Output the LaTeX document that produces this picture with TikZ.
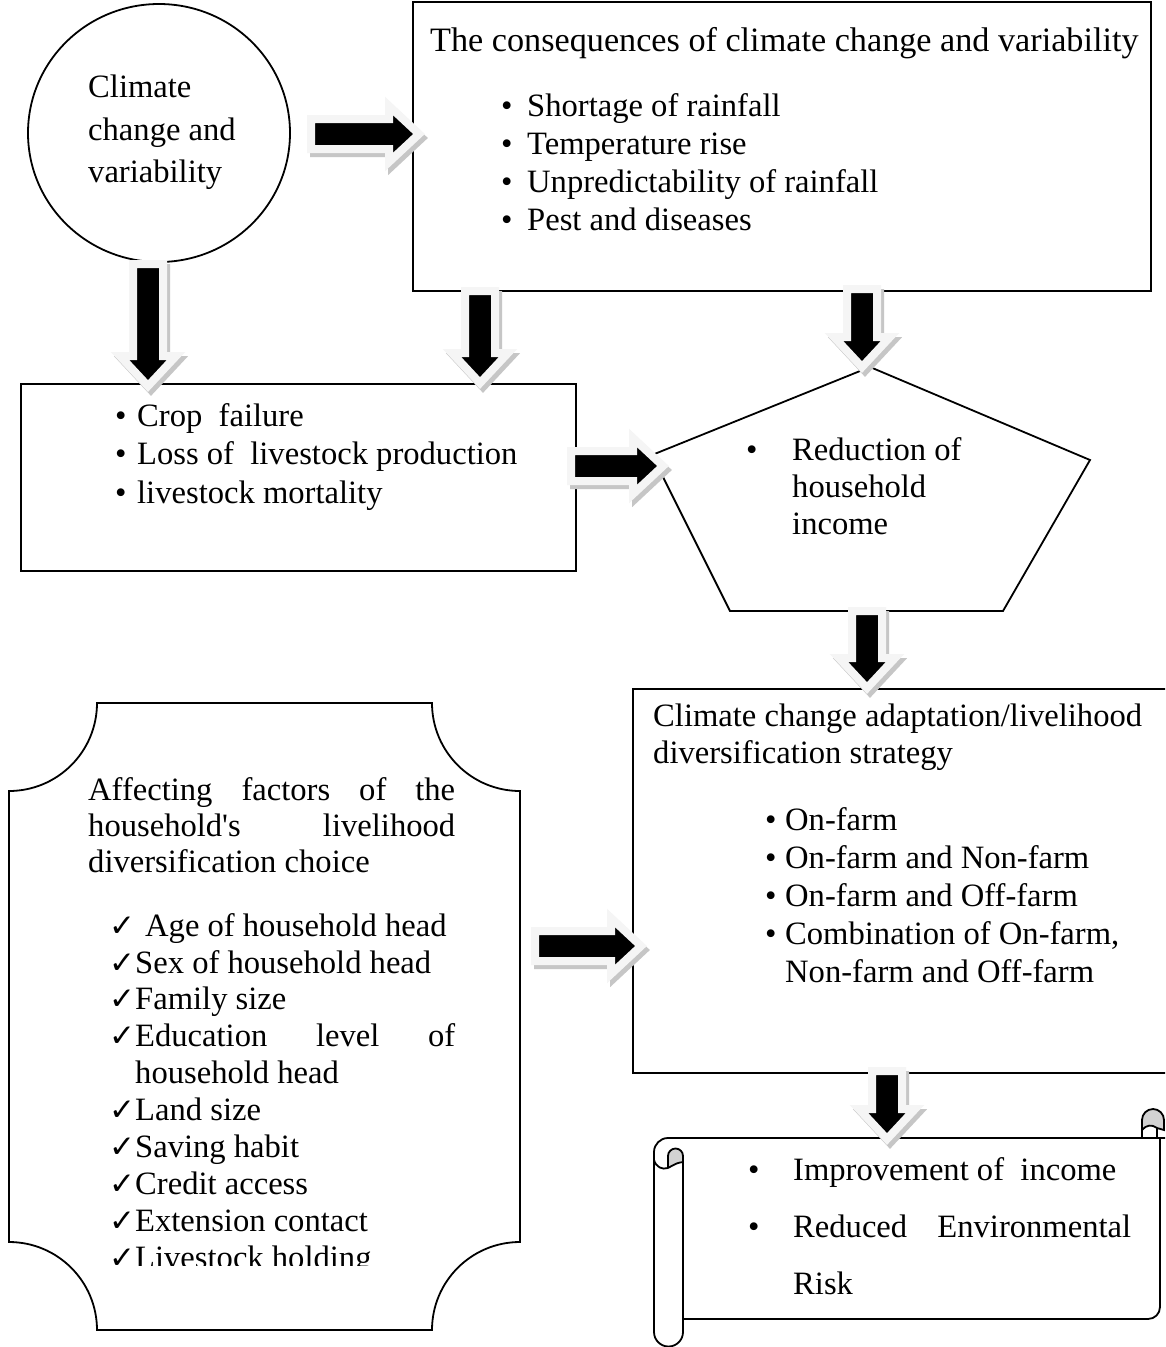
\documentclass[tikz,border=0pt]{standalone}
\usepackage{fontspec}
\setmainfont{Liberation Serif}
\newfontfamily\ckfont{DejaVu Sans}
\usetikzlibrary{shapes.geometric}
\tikzset{
  line/.style={draw=black, line width=1.8pt},
  box/.style={line, inner sep=0pt, anchor=north west},
  txt/.style={inner sep=0pt, anchor=north west, align=left,
    font=\fontsize{32.6}{38}\selectfont},
  arrow body/.style={fill=black, draw=gray!8, line width=8pt, line join=miter},
  arrow shadow/.style={fill=gray!45, draw=gray!45, line width=8pt, line join=miter},
}
\newcommand{\bl}[2]{\makebox[#1pt][l]{\textbullet}#2}
\newcommand{\ck}[2]{\makebox[#1pt][l]{\hspace*{-3pt}\ckfont\fontsize{31}{31}\selectfont ✓}#2}
% block arrow: tail coordinate, angle, length
\newcommand{\fatarrow}[3]{%
  \path[arrow shadow, shift={(#1)}, shift={(3,4)}, rotate=#2]
    (0,-15) -- ({#3-30},-15) -- ({#3-30},-28) -- (#3,0) -- ({#3-30},28) -- ({#3-30},15) -- (0,15) -- cycle;
  \path[arrow body, shift={(#1)}, rotate=#2]
    (0,-15) -- ({#3-30},-15) -- ({#3-30},-28) -- (#3,0) -- ({#3-30},28) -- ({#3-30},15) -- (0,15) -- cycle;
}

\begin{document}
\begin{tikzpicture}[x=1pt, y=-1pt]
    \useasboundingbox (0,0) rectangle (1165,1347);
    \clip (0,0) rectangle (1165,1347);
    \fill[white] (0,0) rectangle (1165,1347);

    % shapes
    \node[line, ellipse, minimum width=262pt, minimum height=258pt] (ell) at (159,133) {};
    \node[box, minimum width=738pt, minimum height=289pt] (cons) at (412,1) {};
    \node[box, minimum width=555pt, minimum height=187pt] (crop) at (20,383) {};
    \node[box, minimum width=560pt, minimum height=384pt] (strat) at (632,688) {};

    % pentagon
    \coordinate (pt) at (870,367);
    \coordinate (pr) at (1090,460);
    \coordinate (pbr) at (1003,611);
    \coordinate (pbl) at (730,611);
    \coordinate (pl) at (652,455);
    \draw[line] (pt) -- (pr) -- (pbr) -- (pbl) -- (pl) -- cycle;

    % plaque
    \draw[line] (97,703) -- (432,703) arc[start angle=180, end angle=90, radius=88]
      -- (520,1242) arc[start angle=270, end angle=180, radius=88]
      -- (97,1330) arc[start angle=0, end angle=-90, radius=88]
      -- (9,791) arc[start angle=90, end angle=0, radius=88] -- cycle;

    % scroll
    \draw[line] (654,1152) arc[start angle=180, end angle=270, radius=14] -- (1175,1138);
    \draw[line] (654,1152) -- (654,1332) arc[start angle=180, end angle=0, radius=14.5] -- (683,1160);
    \draw[line] (683,1319) -- (1148,1319) arc[start angle=90, end angle=0, radius=12] -- (1160,1138);
    \filldraw[line, fill=gray!35] (668,1168) -- (668,1156) arc[start angle=180, end angle=360, radius=7.5]
      -- (683,1162) .. controls (677,1163) .. (668,1168);
    \draw[line] (654,1160) .. controls (656,1167) and (662,1170) .. (668,1168);
    \filldraw[line, fill=gray!35] (1142,1130) -- (1142,1120) arc[start angle=180, end angle=360, radius=11]
      -- (1164,1130) -- (1157,1128) .. controls (1152,1124) and (1146,1125) .. (1142,1130);
    \draw[line] (1142,1130) -- (1142,1138);
    \draw[line] (1157,1128) -- (1157,1138);

    % arrows
    \coordinate (a1) at (311,134);
    \coordinate (a2) at (148,264);
    \coordinate (a3) at (480,291);
    \coordinate (a4) at (862,289);
    \coordinate (a5) at (571,466);
    \coordinate (a6) at (867,611);
    \coordinate (a7) at (535,946);
    \coordinate (a8) at (887,1071);
    \fatarrow{a1}{0}{108}
    \fatarrow{a2}{-90}{122}
    \fatarrow{a3}{-90}{92}
    \fatarrow{a4}{-90}{78}
    \fatarrow{a5}{0}{92}
    \fatarrow{a6}{-90}{77}
    \fatarrow{a7}{0}{106}
    \fatarrow{a8}{-90}{68}

    % texts
    \node[txt, font=\fontsize{32.6}{42.5}\selectfont] (elltxt) at (88,75) {Climate\\change and\\variability};
    \node[txt, font=\fontsize{34.2}{38}\selectfont] (constitle) at (430,27) {The consequences of climate change and variability};
    \node[txt] (conslist) at (501,93) {\bl{26}{Shortage of rainfall}\\ \bl{26}{Temperature rise}\\
      \bl{26}{Unpredictability of rainfall}\\ \bl{26}{Pest and diseases}};
    \node[txt, font=\fontsize{32.6}{38.5}\selectfont] (croplist) at (115,403) {\bl{22}{Crop\ \ failure}\\
      \bl{22}{Loss of\ \ livestock production}\\ \bl{22}{livestock mortality}};
    \node[txt, font=\fontsize{32.6}{37}\selectfont] (pentxt) at (746,437) {\bl{46}{Reduction of}\\
      \hspace*{46pt}household\\ \hspace*{46pt}income};
    \node[txt, font=\fontsize{32.6}{37}\selectfont] (strattitle) at (653,704)
      {Climate change adaptation/livelihood\\ diversification strategy};
    \node[txt, font=\fontsize{32.6}{38.2}\selectfont] (stratlist) at (765,807) {\bl{20}{On-farm}\\
      \bl{20}{On-farm and Non-farm}\\ \bl{20}{On-farm and Off-farm}\\
      \bl{20}{Combination of On-farm,}\\ \hspace*{20pt}Non-farm and Off-farm};
    \node[txt, font=\fontsize{32.6}{36}\selectfont] (plaqtitle) at (88,777)
      {\makebox[367pt][s]{Affecting factors of the}\\ \makebox[367pt][s]{household\textquotesingle s livelihood}\\
      diversification choice};
    \begin{scope}
      \clip (0,0) rectangle (600,1265);
      \node[txt, font=\fontsize{32.6}{36.9}\selectfont] (plaqlist) at (112,913) {\ck{23}{\hspace*{10pt}Age of household head}\\
        \ck{23}{Sex of household head}\\ \ck{23}{Family size}\\
        \ck{23}{\makebox[320pt][s]{Education level of}}\\ \hspace*{23pt}household head\\
        \ck{23}{Land size}\\ \ck{23}{Saving habit}\\ \ck{23}{Credit access}\\
        \ck{23}{Extension contact}\\ \ck{23}{Livestock holding}};
    \end{scope}
    \node[txt, font=\fontsize{32.6}{57}\selectfont] (scrolltxt) at (748,1157) {\bl{45}{Improvement of\ \ income}\\
      \bl{45}{\makebox[338pt][s]{Reduced Environmental}}\\ \hspace*{45pt}Risk};
\end{tikzpicture}
\end{document}
